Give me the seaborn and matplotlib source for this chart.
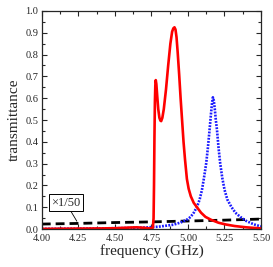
import numpy as np
import pandas as pd
import matplotlib
matplotlib.use("Agg")
import matplotlib.pyplot as plt
from matplotlib.ticker import MultipleLocator
import seaborn as sns

# values
red_freq = [4.00, 4.20, 4.40, 4.50, 4.60, 4.65, 4.70, 4.74, 4.760, 4.765, 4.768,
            4.771, 4.774, 4.777, 4.780, 4.784, 4.790, 4.797, 4.805, 4.812, 4.817,
            4.825, 4.835, 4.850, 4.865, 4.880, 4.892, 4.900, 4.908, 4.915, 4.922,
            4.930, 4.940, 4.950, 4.960, 4.970, 4.980, 4.993, 5.005, 5.020, 5.040,
            5.062, 5.090, 5.120, 5.160, 5.210, 5.260, 5.320, 5.400, 5.500]
red_trans = [0.001, 0.002, 0.003, 0.004, 0.007, 0.008, 0.006, 0.003, 0.006, 0.05, 0.20,
             0.42, 0.58, 0.66, 0.683, 0.665, 0.61, 0.55, 0.51, 0.497, 0.495,
             0.51, 0.55, 0.64, 0.75, 0.85, 0.905, 0.92, 0.925, 0.915, 0.88,
             0.81, 0.71, 0.60, 0.50, 0.40, 0.32, 0.23, 0.185, 0.15, 0.12,
             0.100, 0.075, 0.056, 0.042, 0.029, 0.021, 0.014, 0.008, 0.003]

blue_freq = [4.00, 4.25, 4.50, 4.60, 4.70, 4.80, 4.90, 4.95, 5.00, 5.02, 5.04,
             5.062, 5.080, 5.096, 5.110, 5.125, 5.137, 5.148, 5.158, 5.165, 5.171,
             5.177, 5.184, 5.191, 5.199, 5.210, 5.221, 5.235, 5.251, 5.270, 5.297,
             5.325, 5.358, 5.400, 5.450, 5.500]
blue_trans = [0.001, 0.002, 0.004, 0.005, 0.007, 0.011, 0.020, 0.030, 0.046, 0.057, 0.075,
              0.102, 0.135, 0.179, 0.235, 0.301, 0.375, 0.454, 0.53, 0.578, 0.604,
              0.59, 0.55, 0.50, 0.454, 0.37, 0.301, 0.235, 0.179, 0.135, 0.102,
              0.075, 0.056, 0.037, 0.022, 0.012]

black_freq = [4.00, 4.25, 4.50, 4.75, 5.00, 5.25, 5.50]
black_trans = [0.023, 0.026, 0.030, 0.033, 0.037, 0.041, 0.046]

red = pd.DataFrame({'freq': red_freq, 'trans': red_trans})
blue = pd.DataFrame({'freq': blue_freq, 'trans': blue_trans})
black = pd.DataFrame({'freq': black_freq, 'trans': black_trans})

sns.set_style("ticks")
plt.rcParams['font.family'] = ['Liberation Serif', 'DejaVu Serif']

fig = plt.figure(figsize=(2.73, 2.67), dpi=100)
ax = fig.add_axes([0.153, 0.142, 0.803, 0.817])

sns.lineplot(data=black, x='freq', y='trans', ax=ax, color='black', lw=2.0,
             dashes=False, linestyle=(0, (3.2, 1.8)))
sns.lineplot(data=blue, x='freq', y='trans', ax=ax, color='#1a1aff', lw=1.9,
             linestyle=(0, (0.7, 0.5)))
sns.lineplot(data=red, x='freq', y='trans', ax=ax, color='#ff0000', lw=1.9)

ax.set_xlim(4.0, 5.5)
ax.set_ylim(0.0, 1.0)
ax.xaxis.set_major_locator(MultipleLocator(0.25))
ax.xaxis.set_minor_locator(MultipleLocator(0.125))
ax.yaxis.set_major_locator(MultipleLocator(0.1))
ax.yaxis.set_minor_locator(MultipleLocator(0.05))
ax.set_xticklabels([f"{v:.2f}" for v in ax.get_xticks()])
ax.set_yticklabels([f"{v:.1f}" for v in ax.get_yticks()])
ax.tick_params(which='both', direction='in', top=True, right=True, labelsize=7.5,
               width=0.8)
ax.tick_params(axis='x', pad=3.5)
ax.tick_params(axis='y', pad=2.5)
ax.tick_params(which='major', length=3.5)
ax.tick_params(which='minor', length=2)
for s in ax.spines.values():
    s.set_linewidth(0.9)

ax.set_xlabel('frequency (GHz)', fontsize=11, labelpad=1)
ax.set_ylabel('transmittance', fontsize=11, labelpad=3)

ax.annotate('×1/50', xy=(4.24, 0.036), xytext=(4.165, 0.12), fontsize=9,
            ha='center', va='center',
            bbox=dict(boxstyle='square,pad=0.2', fc='white', ec='black', lw=0.7),
            arrowprops=dict(arrowstyle='-', color='black', lw=0.6, shrinkA=0, shrinkB=0))

fig.savefig('out.png', dpi=100)
